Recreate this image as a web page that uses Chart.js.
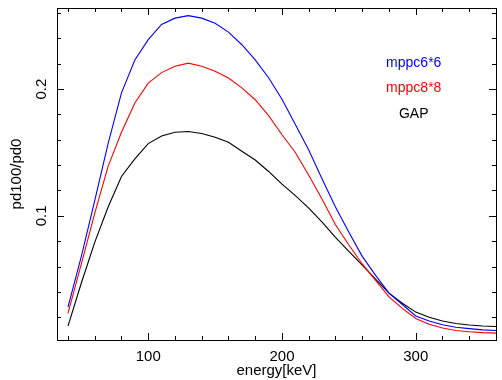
<!DOCTYPE html>
<html>
<head>
<meta charset="utf-8">
<script src="https://cdn.jsdelivr.net/npm/chart.js@4/dist/chart.umd.min.js"></script>
<style>
  html, body { margin: 0; padding: 0; background: #fff; }
  #c { display: block; }
</style>
</head>
<body>
<canvas id="c" width="502" height="380"></canvas>
<script>
// energy grid [keV]
var energy = [40, 50, 60, 70, 80, 90, 100, 110, 120, 130, 140, 150, 160, 170, 180, 190, 200,
              210, 220, 230, 240, 250, 260, 270, 280, 290, 300, 310, 320, 330, 340, 350, 360];

var mppc6 = [0.028, 0.068, 0.112, 0.157, 0.197, 0.223, 0.239, 0.251, 0.256, 0.258, 0.256, 0.252,
             0.245, 0.235, 0.223, 0.209, 0.192, 0.172, 0.152, 0.129, 0.107, 0.087, 0.068, 0.053,
             0.039, 0.030, 0.021, 0.017, 0.014, 0.012, 0.011, 0.010, 0.0095];

var mppc8 = [0.023, 0.062, 0.102, 0.139, 0.166, 0.189, 0.2047, 0.213, 0.218, 0.2205, 0.218, 0.214,
             0.2087, 0.201, 0.1916, 0.179, 0.164, 0.150, 0.132, 0.113, 0.093, 0.077, 0.062, 0.049,
             0.036, 0.027, 0.019, 0.0145, 0.0115, 0.0095, 0.0085, 0.0078, 0.0074];

var gap = [0.013, 0.047, 0.079, 0.107, 0.131, 0.145, 0.157, 0.163, 0.166, 0.1665, 0.165, 0.162,
           0.158, 0.151, 0.144, 0.135, 0.125, 0.116, 0.106, 0.095, 0.083, 0.072, 0.061, 0.050,
           0.039, 0.031, 0.024, 0.020, 0.017, 0.015, 0.0138, 0.013, 0.0126];

var seriesNames = ['mppc6*6', 'mppc8*8', 'GAP'];
var seriesColors = ['#0000ff', '#ff0000', '#000000'];
var xTickLabels = [100, 200, 300];
var yTickLabels = [0.1, 0.2];

var FONT = '"Liberation Sans", Arial, Helvetica, sans-serif';

function toPoints(ys) {
    return energy.map(function (e, i) { return { x: e, y: ys[i] }; });
}

// frame + inward ticks on all four sides, like the original plot
var framePlugin = {
    id: 'frame',
    afterDraw: function (chart) {
        var ctx = chart.ctx;
        var a = chart.chartArea;
        var xs = chart.scales.x, ys = chart.scales.y;
        ctx.save();
        ctx.strokeStyle = '#000';
        ctx.lineWidth = 1;
        ctx.strokeRect(Math.round(a.left) + 0.5, Math.round(a.top) + 0.5,
                       Math.round(a.right - a.left), Math.round(a.bottom - a.top));
        ctx.beginPath();
        for (var v = 40; v <= 360; v += 20) {
            var px = Math.round(xs.getPixelForValue(v)) + 0.5;
            var len = (v % 100 === 0) ? 7 : 4;
            ctx.moveTo(px, a.bottom); ctx.lineTo(px, a.bottom - len);
            ctx.moveTo(px, a.top); ctx.lineTo(px, a.top + len);
        }
        for (var k = 1; k <= 13; k++) {
            var val = k * 0.02;
            var py = Math.round(ys.getPixelForValue(val)) + 0.5;
            var l2 = (k % 5 === 0) ? 7 : 4;
            ctx.moveTo(a.left, py); ctx.lineTo(a.left + l2, py);
            ctx.moveTo(a.right, py); ctx.lineTo(a.right - l2, py);
        }
        ctx.stroke();

        // in-plot legend
        ctx.font = '14px ' + FONT;
        ctx.textAlign = 'center';
        ctx.textBaseline = 'middle';
        var lx = xs.getPixelForValue(300) - 2;
        chart.data.datasets.forEach(function (ds, i) {
            ctx.fillStyle = ds.borderColor;
            ctx.fillText(ds.label, lx, 63 + i * 25.5);
        });
        ctx.restore();
    }
};

var ctx = document.getElementById('c').getContext('2d');
new Chart(ctx, {
    type: 'line',
    data: {
        datasets: [mppc6, mppc8, gap].map(function (ys, i) {
            return {
                label: seriesNames[i],
                data: toPoints(ys),
                borderColor: seriesColors[i],
                borderWidth: 1.1,
                pointRadius: 0,
                tension: 0,
                fill: false
            };
        })
    },
    options: {
        responsive: false,
        animation: false,
        layout: { padding: { top: 8, right: 6, left: 0, bottom: 0 } },
        plugins: { legend: { display: false }, tooltip: { enabled: false } },
        scales: {
            x: {
                type: 'linear',
                min: 31.8,
                max: 360,
                grid: { display: false },
                border: { display: false },
                ticks: {
                    stepSize: 20,
                    autoSkip: false,
                    maxRotation: 0,
                    padding: 0,
                    color: '#000',
                    font: { family: FONT, size: 15 },
                    callback: function (v) {
                        return xTickLabels.indexOf(Math.round(v)) >= 0 && Math.abs(v - Math.round(v)) < 1e-6 ? String(Math.round(v)) : '';
                    }
                },
                title: {
                    display: true,
                    text: 'energy[keV]',
                    color: '#000',
                    font: { family: FONT, size: 15 },
                    padding: { top: 0, bottom: 0 }
                },
                afterFit: function (s) {
                    s.height = 40;
                    s.paddingLeft = 0;
                    s.paddingRight = 0;
                }
            },
            y: {
                type: 'linear',
                min: 0.002,
                max: 0.264,
                grid: { display: false },
                border: { display: false },
                ticks: {
                    stepSize: 0.02,
                    autoSkip: false,
                    minRotation: 90,
                    maxRotation: 90,
                    crossAlign: 'center',
                    padding: -3,
                    color: '#000',
                    font: { family: FONT, size: 15 },
                    callback: function (v) {
                        for (var i = 0; i < yTickLabels.length; i++) {
                            if (Math.abs(v - yTickLabels[i]) < 1e-6) return String(yTickLabels[i]);
                        }
                        return '';
                    }
                },
                title: {
                    display: true,
                    text: 'pd100/pd0',
                    color: '#000',
                    font: { family: FONT, size: 15 },
                    padding: { top: 8, bottom: 0 }
                },
                afterFit: function (s) {
                    s.width = 57;
                    s.paddingTop = 0;
                    s.paddingBottom = 0;
                }
            }
        }
    },
    plugins: [framePlugin]
});
</script>
</body>
</html>
